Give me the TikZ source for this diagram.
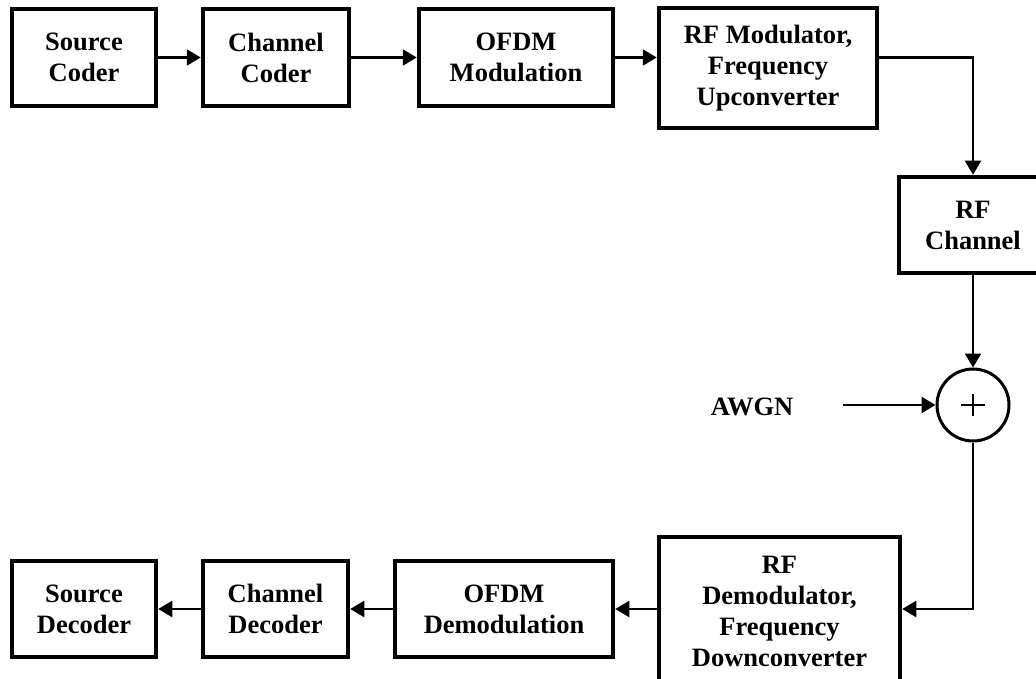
\documentclass[tikz,border=0pt]{standalone}
\usepackage{fontspec}
\setmainfont{Liberation Serif}
\usetikzlibrary{arrows.meta,calc}
\tikzset{
  blk/.style={draw, line width=4.5pt, inner sep=0pt, align=center,
    font=\fontsize{26.5}{31}\selectfont\bfseries},
  conn/.style={line width=2.1pt, -{Triangle[length=14pt,width=16pt]}},
}
\begin{document}
\begin{tikzpicture}[x=1pt,y=-1pt]
\useasboundingbox (0,0) rectangle (1036,679);
% top row
\node[blk, minimum width=144pt, minimum height=97pt] (src) at (84,57.5) {Source\\Coder};
\node[blk, minimum width=146pt, minimum height=97pt] (chc) at (276,57.5) {Channel\\Coder};
\node[blk, minimum width=194pt, minimum height=97pt] (ofdm) at (516,57.5) {OFDM\\Modulation};
\node[blk, minimum width=218pt, minimum height=120pt] (rfm) at (768,68) {RF Modulator,\\Frequency\\Upconverter};
% channel
\node[blk, minimum width=148pt, minimum height=96pt] (rfc) at (973,225) {RF\\Channel};
\node[draw, circle, line width=3pt, minimum size=72pt, inner sep=0pt] (sum) at (973,405) {};
\draw[line width=1.8pt] ($(sum.center)+(-12,0)$) -- ($(sum.center)+(12,0)$);
\draw[line width=1.8pt] ($(sum.center)+(0,-11)$) -- ($(sum.center)+(0,11)$);
\node[font=\fontsize{26.5}{31}\selectfont\bfseries, inner sep=0pt] (awgn) at (752,407) {AWGN};
\coordinate (awgnout) at (843,405);
% bottom row
\node[blk, minimum width=241pt, minimum height=148pt] (rfd) at (779.5,611) {RF\\Demodulator,\\Frequency\\Downconverter};
\node[blk, minimum width=218pt, minimum height=96pt] (ofdmd) at (504,609) {OFDM\\Demodulation};
\node[blk, minimum width=145pt, minimum height=96pt] (chd) at (275.5,609) {Channel\\Decoder};
\node[blk, minimum width=144pt, minimum height=96pt] (srd) at (84,609) {Source\\Decoder};
% connectors
\draw[conn] (src.east) -- (chc.west);
\draw[conn] (chc.east) -- (ofdm.west);
\draw[conn] (ofdm.east) -- (rfm.west |- ofdm.east);
\draw[conn] (rfm.east |- ofdm.east) -| (rfc.north);
\draw[conn] (rfc.south) -- (sum.north);
\draw[conn] (awgnout) -- (sum.west);
\draw[conn] (sum.south) |- (rfd.east |- ofdmd.east);
\draw[conn] (rfd.west |- ofdmd.east) -- (ofdmd.east);
\draw[conn] (ofdmd.west) -- (chd.east);
\draw[conn] (chd.west) -- (srd.east);
\end{tikzpicture}
\end{document}
